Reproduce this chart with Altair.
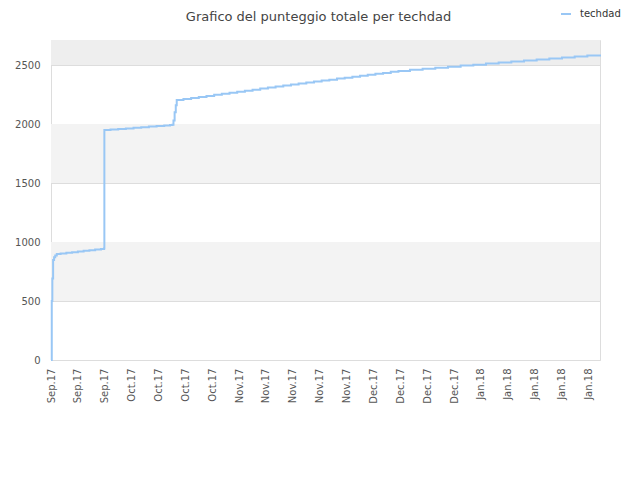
import altair as alt
import pandas as pd

series_name = "techdad"
title_text = "Grafico del punteggio totale per techdad"

# day index (from first entry) and cumulative score
days = [0, 0.2, 0.35, 0.55, 0.8, 1.1, 1.5, 2.5, 4, 5.5, 7, 8.5, 10, 11.5, 13, 13.8,
        13.9, 15.5, 17.5, 19.5, 21.5, 23.5, 25.5, 27.5, 29.5, 31, 31.6,
        31.9, 32.2, 32.5, 32.75,
        34.5, 36.5, 38.5, 40.5, 42.5, 44.5, 46.5, 48.5, 50.5, 52.5, 54.5, 56.5, 58.5,
        60.5, 62.5, 64.5, 66.5, 68.5, 70.5, 72.5, 74.5, 76.5, 78.5, 80.5, 82.5, 84.5,
        86.5, 88.5, 90.5, 93.5, 96.8, 100.1, 103.4, 106.7, 110, 113.3, 116.6, 119.9,
        123.2, 126.5, 129.8, 133.1, 136.4, 139.7, 143]
scores = [0, 500, 690, 847, 870, 885, 898, 903, 908, 914, 919, 925, 930, 936, 941, 946,
          1949, 1953, 1958, 1963, 1968, 1973, 1978, 1983, 1988, 1992, 1994,
          2030, 2100, 2160, 2203,
          2211, 2220, 2229, 2238, 2247, 2256, 2264, 2273, 2282, 2291, 2300, 2309, 2317,
          2326, 2334, 2343, 2351, 2360, 2368, 2376, 2385, 2393, 2401, 2409, 2417, 2425,
          2433, 2442, 2450, 2460, 2469, 2477, 2486, 2495, 2503, 2512, 2521, 2529,
          2538, 2547, 2555, 2564, 2573, 2581, 2590]

tick_days = [0, 7, 14, 21, 28, 35, 42, 49, 56, 63, 70, 77, 84, 91, 98, 105, 112, 119, 126, 133, 140]
tick_labels = ["Sep.17", "Sep.17", "Sep.17",
               "Oct.17", "Oct.17", "Oct.17", "Oct.17",
               "Nov.17", "Nov.17", "Nov.17", "Nov.17", "Nov.17",
               "Dec.17", "Dec.17", "Dec.17", "Dec.17",
               "Jan.18", "Jan.18", "Jan.18", "Jan.18", "Jan.18"]

band_lo = [500, 1500]
band_hi = [1000, 2000]
top_lo = [2500]
top_hi = [2712]

y_max = 2712
x_max = 143
W, H = 549, 320

df = pd.DataFrame({"day": days, "score": scores, "series": series_name})
bands = pd.DataFrame({"lo": band_lo, "hi": band_hi})
top = pd.DataFrame({"lo": top_lo, "hi": top_hi})

label_map = "{" + ",".join(f"'{d}':'{l}'" for d, l in zip(tick_days, tick_labels)) + "}"

yscale = alt.Scale(domain=[0, y_max], nice=False, zero=True)
xscale = alt.Scale(domain=[0, x_max], nice=False, zero=False)

band_layer = alt.Chart(bands).mark_rect(color="#f3f3f3").encode(
    x=alt.value(0), x2=alt.value(W),
    y=alt.Y("lo:Q", scale=yscale), y2="hi:Q")
top_layer = alt.Chart(top).mark_rect(color="#eeeeee").encode(
    x=alt.value(0), x2=alt.value(W),
    y=alt.Y("lo:Q", scale=yscale), y2="hi:Q")

line = alt.Chart(df).mark_line(interpolate="step-after", strokeWidth=2).encode(
    x=alt.X("day:Q", scale=xscale,
            axis=alt.Axis(values=tick_days, labelExpr=f"{label_map}[''+datum.value]",
                          labelAngle=270, labelAlign="right", labelBaseline="middle",
                          grid=False, ticks=False, domain=False, title=None,
                          labelPadding=8, labelFontSize=10, labelColor="#555555",
                          labelFont="DejaVu Sans", labelOverlap=False, labelFlush=False)),
    y=alt.Y("score:Q", scale=yscale,
            axis=alt.Axis(values=[0, 500, 1000, 1500, 2000, 2500], format="d",
                          grid=True, gridColor="#dddddd", ticks=False, domain=False,
                          title=None, labelPadding=11, labelFontSize=10,
                          labelColor="#555555", labelFont="DejaVu Sans")),
    color=alt.Color("series:N", scale=alt.Scale(range=["#99c7f5"]),
                    legend=alt.Legend(title=None, orient="none", legendX=509, legendY=-32,
                                      symbolType="stroke", symbolSize=100,
                                      symbolStrokeWidth=2, labelFontSize=10, labelOffset=8,
                                      labelColor="#333333", labelFont="DejaVu Sans")),
)

chart = alt.layer(band_layer, top_layer, line).properties(
    width=W, height=H,
    title=alt.TitleParams(title_text, fontSize=13, font="DejaVu Sans", fontWeight="normal",
                          color="#444444", offset=0, dx=-7, dy=16),
    autosize=alt.AutoSizeParams(type="none"),
    padding={"left": 43, "top": 32, "right": 30, "bottom": 110},
).configure_view(stroke="#dddddd")

chart.save("out.html", embed_options={"renderer": "svg", "actions": False})
